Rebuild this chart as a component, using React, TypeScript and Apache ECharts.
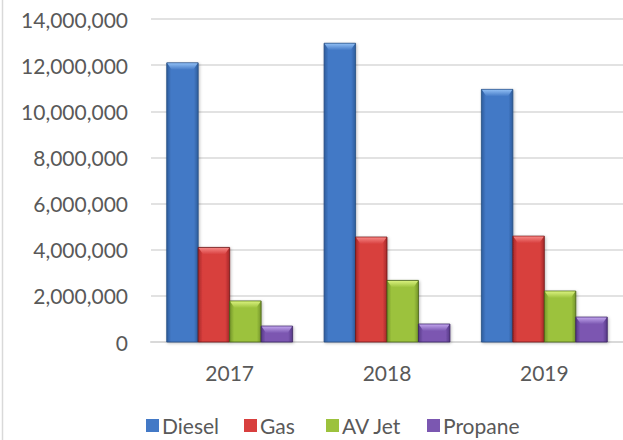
import React, { useEffect, useRef } from "react";
import * as echarts from "echarts";

const categories = ["2017", "2018", "2019"];
const seriesNames = ["Diesel", "Gas", "AV Jet", "Propane"];
const diesel = [12100000, 12950000, 10950000];
const gas = [4100000, 4550000, 4590000];
const avJet = [1780000, 2670000, 2210000];
const propane = [690000, 780000, 1080000];
const yTicks = [0, 2000000, 4000000, 6000000, 8000000, 10000000, 12000000, 14000000];

const seriesValues = [diesel, gas, avJet, propane];

const palettes = [
  { main: "#4379c6", edge: "#2d5c9c", bevel: "#8ebcf2", line: "#264c80" },
  { main: "#d83f3e", edge: "#a52828", bevel: "#f58583", line: "#6e1818" },
  { main: "#9cc23d", edge: "#74952a", bevel: "#d8f07c", line: "#465f16" },
  { main: "#7b57b1", edge: "#573887", bevel: "#bea2ea", line: "#3a2560" },
];

const legendLefts = [141, 239, 321, 422];

const FONT = "Lato";

export default function App() {
  const ref = useRef<HTMLDivElement>(null);
  useEffect(() => {
    document.body.style.margin = "0";
    if (!ref.current) return;
    const chart = echarts.init(ref.current, null, { renderer: "svg" });
    const n = seriesNames.length;
    const series: any[] = seriesNames.map((name, idx) => {
      const p = palettes[idx];
      return {
        name,
        type: "custom",
        itemStyle: { color: p.main },
        encode: { x: 0, y: 1 },
        data: seriesValues[idx].map((v, i) => [i, v]),
        renderItem: (params: any, api: any) => {
          const cat = api.value(0);
          const val = api.value(1);
          const base = api.coord([cat, 0]);
          const top = api.coord([cat, val]);
          const band = api.size([1, 0])[0];
          const bw = (band * 0.8) / n;
          const x0 = base[0] - band * 0.4 + idx * bw;
          const y0 = top[1];
          const h = base[1] - top[1];
          const b = Math.min(7, h / 2);
          const s = 5;
          return {
            type: "group",
            children: [
              {
                type: "rect",
                shape: { x: x0, y: y0, width: bw, height: h },
                style: {
                  fill: new echarts.graphic.LinearGradient(0, 0, 1, 0, [
                    { offset: 0, color: p.edge },
                    { offset: 0.14, color: p.main },
                    { offset: 0.5, color: p.main },
                    { offset: 0.86, color: p.main },
                    { offset: 1, color: p.edge },
                  ]),
                  stroke: p.line,
                  lineWidth: 0.8,
                  shadowBlur: 3,
                  shadowColor: "rgba(0,0,0,0.25)",
                  shadowOffsetX: 1,
                  shadowOffsetY: 1,
                },
              },
              {
                type: "polygon",
                shape: {
                  points: [
                    [x0 + 0.5, y0 + 0.5],
                    [x0 + bw - 0.5, y0 + 0.5],
                    [x0 + bw - s, y0 + b],
                    [x0 + s, y0 + b],
                  ],
                },
                style: {
                  fill: new echarts.graphic.LinearGradient(0, 0, 0, 1, [
                    { offset: 0, color: p.bevel },
                    { offset: 1, color: p.main },
                  ]),
                },
              },
            ],
          };
        },
      };
    });

    const legends = seriesNames.map((name, i) => ({
      data: [name],
      left: legendLefts[i],
      top: 410,
      icon: "rect",
      itemWidth: 13,
      itemHeight: 13,
      textStyle: { fontFamily: FONT, fontSize: 21, color: "#595959", padding: [0, 0, 0, -2] },
    }));

    chart.setOption({
      animation: false,
      grid: { left: 151, right: 0, top: 19, bottom: 98, containLabel: false },
      graphic: [
        {
          type: "line",
          shape: { x1: 2.5, y1: 0, x2: 2.5, y2: 440 },
          style: { stroke: "#d9d9d9", lineWidth: 1.5 },
        },
      ],
      legend: legends,
      xAxis: {
        type: "category",
        data: categories,
        axisTick: { show: false },
        axisLine: { lineStyle: { color: "#d9d9d9", width: 2 } },
        axisLabel: { fontFamily: FONT, fontSize: 21, color: "#595959", margin: 20 },
      },
      yAxis: {
        type: "value",
        min: yTicks[0],
        max: yTicks[yTicks.length - 1],
        interval: yTicks[1] - yTicks[0],
        axisLine: { show: false },
        axisTick: { show: false },
        splitLine: { lineStyle: { color: "#d9d9d9", width: 1.5 } },
        axisLabel: {
          fontFamily: FONT,
          fontSize: 21,
          color: "#595959",
          margin: 23,
          formatter: (v: number) => v.toLocaleString("en-US"),
        },
      },
      series,
    });
    return () => chart.dispose();
  }, []);
  return <div ref={ref} style={{ width: 623, height: 440 }} />;
}
